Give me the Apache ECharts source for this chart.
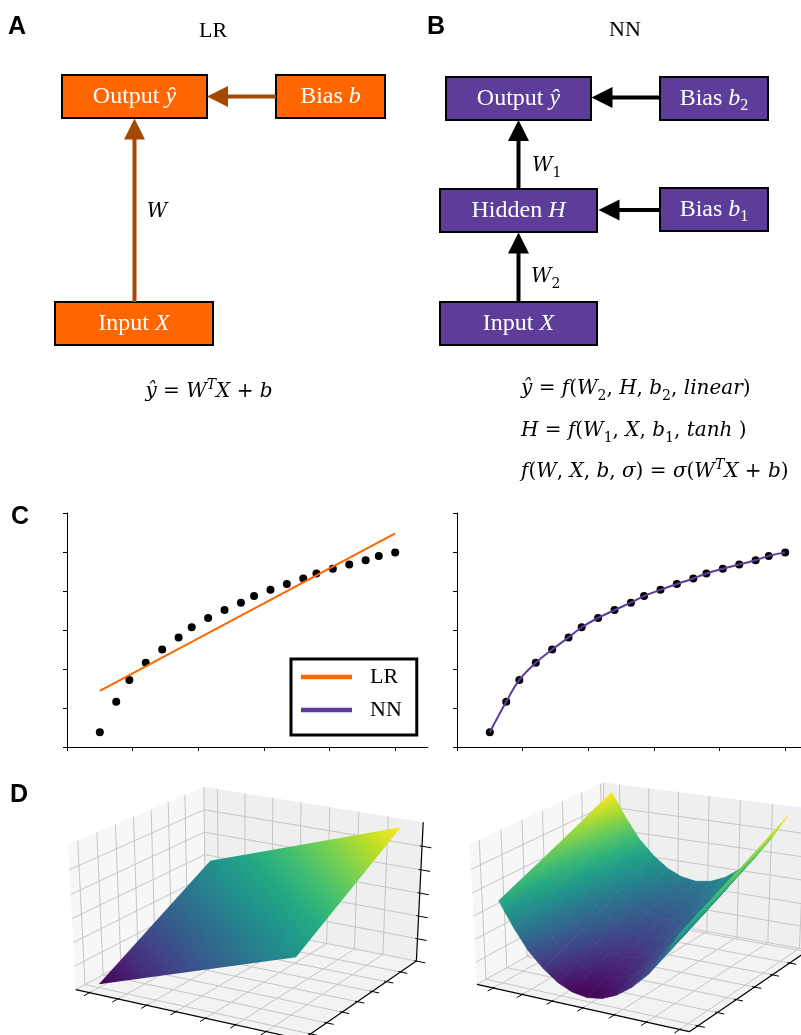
<!DOCTYPE html>
<html>
<head>
<meta charset="utf-8">
<script src="https://cdn.jsdelivr.net/npm/echarts@6/dist/echarts.min.js"></script>
<style>
  html, body { margin: 0; padding: 0; background: #fff; }
  #main { width: 801px; height: 1035px; }
</style>
</head>
<body>
<div id="main"></div>
<script>
// ---------- data ----------
// panel C: observations, LR fit, NN fit
var obsX = [1.0, 1.5, 1.9, 2.4, 2.9, 3.4, 3.8, 4.3, 4.8, 5.3, 5.7, 6.2, 6.7, 7.2, 7.6, 8.1, 8.6, 9.1, 9.5, 10.0];
var obsY = [0.38, 1.16, 1.72, 2.16, 2.50, 2.81, 3.07, 3.31, 3.51, 3.70, 3.87, 4.03, 4.18, 4.32, 4.45, 4.57, 4.68, 4.79, 4.90, 4.99];
var lrFitX = [1.0, 10.0];
var lrFitY = [1.44, 5.48];
var nnFitY = [0.38, 1.16, 1.72, 2.16, 2.50, 2.81, 3.07, 3.31, 3.51, 3.70, 3.87, 4.03, 4.18, 4.32, 4.45, 4.57, 4.68, 4.79, 4.90, 4.99];
var cTicksX = [0, 2, 4, 6, 8, 10];

// panel D left: LR plane (corner values, rows = y)
var lrGridX = [-1, 1];
var lrGridY = [-1, 1];
var lrGridZ = [[-2, 0], [0, 2]];
var lrTicksX = [-1, -0.7, -0.4, -0.1, 0.2, 0.5, 0.8];
var lrTicksY = [-1, -0.7, -0.4, -0.1, 0.2, 0.5, 0.8];
var lrTicksZ = [-2.1, -1.4, -0.7, 0, 0.7, 1.4];

// panel D right: NN surface (rows = y)
var nnGridX = [-1, -0.83, -0.67, -0.5, -0.33, -0.17, 0, 0.17, 0.33, 0.5, 0.67, 0.83, 1];
var nnGridY = [-1, -0.67, -0.33, 0, 0.33, 0.67, 1];
var nnGridZ = [
  [1.00, 0.69, 0.44, 0.25, 0.11, 0.03, 0.00, 0.03, 0.11, 0.25, 0.44, 0.69, 1.00],
  [1.11, 0.80, 0.55, 0.36, 0.22, 0.14, 0.11, 0.14, 0.22, 0.36, 0.55, 0.80, 1.11],
  [1.22, 0.91, 0.66, 0.47, 0.33, 0.25, 0.22, 0.25, 0.33, 0.47, 0.66, 0.91, 1.22],
  [1.33, 1.02, 0.77, 0.58, 0.44, 0.36, 0.33, 0.36, 0.44, 0.58, 0.77, 1.02, 1.33],
  [1.44, 1.13, 0.88, 0.69, 0.55, 0.47, 0.44, 0.47, 0.55, 0.69, 0.88, 1.13, 1.44],
  [1.56, 1.25, 1.00, 0.81, 0.67, 0.59, 0.56, 0.59, 0.67, 0.81, 1.00, 1.25, 1.56],
  [1.67, 1.36, 1.11, 0.92, 0.78, 0.70, 0.67, 0.70, 0.78, 0.92, 1.11, 1.36, 1.67]
];
var nnTicksX = [-1, -0.65, -0.3, 0.05, 0.4, 0.75, 1.1];
var nnTicksY = [-1, -0.65, -0.3, 0.05, 0.4, 0.75, 1.1];
var nnTicksZ = [-0.05, 0.24, 0.53, 0.83, 1.12, 1.41];

// ---------- layout / style ----------
var lrRange = { x: [-1.15, 1.15], y: [-1.15, 1.15], z: [-2.1, 2.1] };
var nnRange = { x: [-1.2, 1.2], y: [-1.15, 1.15], z: [-0.05, 1.72] };
// box corner (fractions) -> pixel, used to fit the 3D view
var lrView = [
  [0, 0, 1, 68, 846], [0, 0, 0, 75, 988], [0, 1, 1, 204, 786], [1, 1, 1, 423, 822],
  [1, 1, 0, 416, 961], [1, 0, 0, 303, 1040], [0, 1, 0, 206, 921]
];
var nnView = [
  [0, 0, 1, 470, 845], [0, 0, 0, 476, 983], [0, 1, 1, 603, 782], [1, 1, 1, 815, 809],
  [1, 1, 0, 808, 950], [1, 0, 0, 690, 1032], [0, 1, 0, 606, 914]
];
var viridis = ['#440154', '#482475', '#414487', '#355f8d', '#2a788e', '#21918c',
               '#22a884', '#44bf70', '#7ad151', '#bddf26', '#fde725'];
var ORANGE = '#ff6600', BROWN = '#a64800', PURPLE = '#5e3c99';
var SERIF = 'Liberation Serif', MATH = 'DejaVu Serif';

var chart = echarts.init(document.getElementById('main'));

// least squares fit of a projective 3D -> 2D map from the anchor corners
function makeCamera(anchors) {
  var ox = 400, oy = 900, s = 100, rows = [], rhs = [];
  anchors.forEach(function (a) {
    var X = a[0], Y = a[1], Z = a[2], u = (a[3] - ox) / s, v = (a[4] - oy) / s;
    rows.push([X, Y, Z, 1, 0, 0, 0, 0, -u * X, -u * Y, -u * Z]); rhs.push(u);
    rows.push([0, 0, 0, 0, X, Y, Z, 1, -v * X, -v * Y, -v * Z]); rhs.push(v);
  });
  var n = 11, M = [], i, j, k;
  for (i = 0; i < n; i++) {
    M[i] = [];
    for (j = 0; j <= n; j++) {
      var acc = 0;
      for (k = 0; k < rows.length; k++) acc += rows[k][i] * (j < n ? rows[k][j] : rhs[k]);
      M[i][j] = acc;
    }
  }
  for (i = 0; i < n; i++) {
    var piv = i;
    for (k = i + 1; k < n; k++) if (Math.abs(M[k][i]) > Math.abs(M[piv][i])) piv = k;
    var t = M[i]; M[i] = M[piv]; M[piv] = t;
    for (k = 0; k < n; k++) {
      if (k === i) continue;
      var f = M[k][i] / M[i][i];
      for (j = i; j <= n; j++) M[k][j] -= f * M[i][j];
    }
  }
  var p = [];
  for (i = 0; i < n; i++) p[i] = M[i][n] / M[i][i];
  return function (X, Y, Z) {
    var w = p[8] * X + p[9] * Y + p[10] * Z + 1;
    return [ox + s * (p[0] * X + p[1] * Y + p[2] * Z + p[3]) / w,
            oy + s * (p[4] * X + p[5] * Y + p[6] * Z + p[7]) / w];
  };
}
var lrCam = makeCamera(lrView);
var nnCam = makeCamera(nnView);

function frac(r) { return function (v) { return (v - r[0]) / (r[1] - r[0]); }; }

// viridis lookup, t in [0, 1]
function hexRgb(h) { return [parseInt(h.substr(1, 2), 16), parseInt(h.substr(3, 2), 16), parseInt(h.substr(5, 2), 16)]; }
var virRgb = viridis.map(hexRgb);
function vir(t) {
  t = Math.max(0, Math.min(1, t)) * (virRgb.length - 1);
  var i = Math.min(Math.floor(t), virRgb.length - 2), f = t - i, a = virRgb[i], b = virRgb[i + 1];
  return 'rgb(' + Math.round(a[0] + (b[0] - a[0]) * f) + ',' + Math.round(a[1] + (b[1] - a[1]) * f) + ',' +
         Math.round(a[2] + (b[2] - a[2]) * f) + ')';
}

// panes, grid, axis lines and ticks of a matplotlib style 3D box
function frameRender(cam, range, tx, ty, tz) {
  return function () {
    var kids = [];
    function P(q) { return cam(q[0], q[1], q[2]); }
    function poly(pts, fill) {
      kids.push({ type: 'polygon', shape: { points: pts.map(P) }, style: { fill: fill } });
    }
    function seg(a, b, color, w) {
      var p = P(a), q = P(b);
      kids.push({ type: 'line', shape: { x1: p[0], y1: p[1], x2: q[0], y2: q[1] },
                  style: { stroke: color, lineWidth: w } });
    }
    var fx = tx.map(frac(range.x)), fy = ty.map(frac(range.y)), fz = tz.map(frac(range.z));
    poly([[0, 0, 0], [0, 1, 0], [0, 1, 1], [0, 0, 1]], '#f7f7f7');
    poly([[0, 1, 0], [1, 1, 0], [1, 1, 1], [0, 1, 1]], '#efefef');
    poly([[0, 0, 0], [1, 0, 0], [1, 1, 0], [0, 1, 0]], '#f3f3f3');
    var G = '#c6c6c6';
    seg([0, 1, 0], [0, 1, 1], G, 1);
    fx.forEach(function (t) { seg([t, 0, 0], [t, 1, 0], G, 1); seg([t, 1, 0], [t, 1, 1], G, 1); });
    fy.forEach(function (t) { seg([0, t, 0], [1, t, 0], G, 1); seg([0, t, 0], [0, t, 1], G, 1); });
    fz.forEach(function (t) { seg([0, 0, t], [0, 1, t], G, 1); seg([0, 1, t], [1, 1, t], G, 1); });
    seg([0, 0, 0], [1, 0, 0], '#000', 1.2);
    seg([1, 0, 0], [1, 1, 0], '#000', 1.2);
    seg([1, 1, 0], [1, 1, 1], '#000', 1.2);
    fx.forEach(function (t) { seg([t, 0.01, 0], [t, -0.04, 0], '#000', 1); });
    fy.forEach(function (t) { seg([0.99, t, 0], [1.03, t, 0], '#000', 1); });
    fz.forEach(function (t) { seg([0.99, 1, t], [1.04, 1, t], '#000', 1); });
    return { type: 'group', children: kids };
  };
}

// LR plane: one polygon, viridis gradient along z
function lrSurface() {
  var fx = frac(lrRange.x), fy = frac(lrRange.y), fz = frac(lrRange.z);
  function C(i, j) { return lrCam(fx(lrGridX[i]), fy(lrGridY[j]), fz(lrGridZ[j][i])); }
  var p00 = C(0, 0), p10 = C(1, 0), p11 = C(1, 1), p01 = C(0, 1);
  var d = [p01[0] - p10[0], p01[1] - p10[1]];
  var len = Math.sqrt(d[0] * d[0] + d[1] * d[1]);
  var nrm = [-d[1] / len, d[0] / len];
  var proj = (p11[0] - p00[0]) * nrm[0] + (p11[1] - p00[1]) * nrm[1];
  var stops = viridis.map(function (c, k) { return { offset: k / (viridis.length - 1), color: c }; });
  var grad = new echarts.graphic.LinearGradient(p00[0], p00[1],
    p00[0] + nrm[0] * proj, p00[1] + nrm[1] * proj, stops, true);
  return { type: 'polygon', shape: { points: [p00, p10, p11, p01] },
           style: { fill: grad, stroke: null } };
}

// NN surface cells, sorted far to near
var nnCells = [];
(function () {
  var fx = frac(nnRange.x), fy = frac(nnRange.y), fz = frac(nnRange.z);
  for (var j = 0; j < nnGridY.length - 1; j++) {
    for (var i = 0; i < nnGridX.length - 1; i++) {
      var zAvg = (nnGridZ[j][i] + nnGridZ[j][i + 1] + nnGridZ[j + 1][i] + nnGridZ[j + 1][i + 1]) / 4;
      var cx = fx((nnGridX[i] + nnGridX[i + 1]) / 2), cy = fy((nnGridY[j] + nnGridY[j + 1]) / 2);
      var depth = -0.433 * cx + 0.75 * cy - 0.375 * fz(zAvg);
      nnCells.push([i, j, zAvg, depth]);
    }
  }
  nnCells.sort(function (a, b) { return b[3] - a[3]; });
})();
var nnZmin = Math.min.apply(null, nnGridZ.map(function (r) { return Math.min.apply(null, r); }));
var nnZmax = Math.max.apply(null, nnGridZ.map(function (r) { return Math.max.apply(null, r); }));

// each cell gets a linear gradient following its screen-space z slope
function nnSurface(params, api) {
  var i = api.value(0), j = api.value(1);
  var fx = frac(nnRange.x), fy = frac(nnRange.y), fz = frac(nnRange.z);
  var ids = [[i, j], [i + 1, j], [i + 1, j + 1], [i, j + 1]];
  var z = ids.map(function (c) { return nnGridZ[c[1]][c[0]]; });
  var p = ids.map(function (c, k) { return nnCam(fx(nnGridX[c[0]]), fy(nnGridY[c[1]]), fz(z[k])); });
  var eu = [(p[1][0] - p[0][0] + p[2][0] - p[3][0]) / 2, (p[1][1] - p[0][1] + p[2][1] - p[3][1]) / 2];
  var ev = [(p[3][0] - p[0][0] + p[2][0] - p[1][0]) / 2, (p[3][1] - p[0][1] + p[2][1] - p[1][1]) / 2];
  var du = (z[1] - z[0] + z[2] - z[3]) / 2, dv = (z[3] - z[0] + z[2] - z[1]) / 2;
  var det = eu[0] * ev[1] - eu[1] * ev[0];
  var zc = (z[0] + z[1] + z[2] + z[3]) / 4;
  var norm = function (v) { return (v - nnZmin) / (nnZmax - nnZmin); };
  var fill = vir(norm(zc));
  if (Math.abs(det) > 0.5) {
    var g = [(ev[1] * du - eu[1] * dv) / det, (-ev[0] * du + eu[0] * dv) / det];
    var g2 = g[0] * g[0] + g[1] * g[1];
    if (g2 > 1e-9) {
      var c = [(p[0][0] + p[1][0] + p[2][0] + p[3][0]) / 4, (p[0][1] + p[1][1] + p[2][1] + p[3][1]) / 4];
      var lo = Math.min.apply(null, z), hi = Math.max.apply(null, z);
      var a = (lo - zc) / g2, b = (hi - zc) / g2;
      fill = new echarts.graphic.LinearGradient(c[0] + g[0] * a, c[1] + g[1] * a, c[0] + g[0] * b, c[1] + g[1] * b,
        [{ offset: 0, color: vir(norm(lo)) }, { offset: 0.5, color: vir(norm((lo + hi) / 2)) },
         { offset: 1, color: vir(norm(hi)) }], true);
    }
  }
  return { type: 'polygon', shape: { points: p }, style: { fill: fill, stroke: fill, lineWidth: 0.7 } };
}

// ---------- diagram text ----------
var boxRich = {
  n: { fontFamily: SERIF, fontSize: 24, lineHeight: 30, fill: '#fff' },
  i: { fontFamily: SERIF, fontSize: 24, lineHeight: 30, fontStyle: 'italic', fill: '#fff' },
  s: { fontFamily: SERIF, fontSize: 16, lineHeight: 20, verticalAlign: 'bottom', fill: '#fff' }
};
var mathRich = {
  n: { fontFamily: MATH, fontSize: 20, lineHeight: 28, fill: '#000' },
  i: { fontFamily: MATH, fontSize: 20, lineHeight: 28, fontStyle: 'italic', fill: '#000' },
  s: { fontFamily: MATH, fontSize: 14, lineHeight: 18, verticalAlign: 'bottom', fill: '#000' },
  p: { fontFamily: MATH, fontSize: 14, lineHeight: 14, verticalAlign: 'top', fontStyle: 'italic', fill: '#000' }
};

function box(x, y, w, h, fill, label) {
  return [
    { type: 'rect', shape: { x: x, y: y, width: w, height: h },
      style: { fill: fill, stroke: '#000', lineWidth: 2 } },
    { type: 'text', x: x + w / 2, y: y + h / 2,
      style: { text: label, rich: boxRich, fill: '#fff', align: 'center', verticalAlign: 'middle' } }
  ];
}
function hArrow(x0, x1, y, color) {
  return [
    { type: 'line', shape: { x1: x0, y1: y, x2: x1 + 20, y2: y }, style: { stroke: color, lineWidth: 4 } },
    { type: 'polygon', shape: { points: [[x1, y], [x1 + 21, y - 10.5], [x1 + 21, y + 10.5]] }, style: { fill: color } }
  ];
}
function vArrow(x, y0, y1, color) {
  return [
    { type: 'line', shape: { x1: x, y1: y0, x2: x, y2: y1 + 20 }, style: { stroke: color, lineWidth: 4 } },
    { type: 'polygon', shape: { points: [[x, y1], [x - 10.5, y1 + 21], [x + 10.5, y1 + 21]] }, style: { fill: color } }
  ];
}
function txt(x, y, s, rich, align) {
  return { type: 'text', x: x, y: y, style: { text: s, rich: rich, fill: '#000', align: align || 'center', verticalAlign: 'middle' } };
}
function panelLabel(x, y, s) {
  return { type: 'text', x: x, y: y, style: { text: s, fontFamily: 'Liberation Sans', fontWeight: 'bold',
           fontSize: 25, fill: '#000', align: 'left', verticalAlign: 'middle' } };
}
function title(x, y, s) {
  return { type: 'text', x: x, y: y, style: { text: s, fontFamily: SERIF, fontSize: 22, fill: '#000',
           align: 'center', verticalAlign: 'middle' } };
}

var graphics = [].concat(
  panelLabel(8, 27, 'A'), panelLabel(427, 27, 'B'), panelLabel(11, 517, 'C'), panelLabel(10, 795, 'D'),
  title(213, 31, 'LR'), title(625, 30, 'NN'),
  box(62, 75, 145, 43, ORANGE, '{n|Output }{i|ŷ}'),
  box(276, 75, 109, 43, ORANGE, '{n|Bias }{i|b}'),
  box(55, 302, 158, 43, ORANGE, '{n|Input }{i|X}'),
  hArrow(276, 207, 96.5, BROWN),
  vArrow(134.5, 302, 118.5, BROWN),
  txt(157, 212, '{i|W}', mathRich),
  box(446, 77, 145, 43, PURPLE, '{n|Output }{i|ŷ}'),
  box(660, 77, 108, 43, PURPLE, '{n|Bias }{i|b}{s|2}'),
  box(440, 189, 157, 43, PURPLE, '{n|Hidden }{i|H}'),
  box(660, 188, 108, 43, PURPLE, '{n|Bias }{i|b}{s|1}'),
  box(440, 302, 157, 43, PURPLE, '{n|Input }{i|X}'),
  hArrow(660, 591.5, 97.5, '#000'),
  hArrow(660, 598.5, 210, '#000'),
  vArrow(518.5, 189, 120, '#000'),
  vArrow(518.5, 302, 232.5, '#000'),
  txt(532, 166, '{i|W}{s|1}', mathRich, 'left'),
  txt(531, 277, '{i|W}{s|2}', mathRich, 'left'),
  txt(209, 392, '{i|ŷ}{n| = }{i|W}{p|T}{i|X}{n| + }{i|b}', mathRich),
  txt(521, 389, '{i|ŷ}{n| = }{i|f}{n|(}{i|W}{s|2}{n|, }{i|H}{n|, }{i|b}{s|2}{n|, }{i|linear}{n|)}', mathRich, 'left'),
  txt(521, 431, '{i|H}{n| = }{i|f}{n|(}{i|W}{s|1}{n|, }{i|X}{n|, }{i|b}{s|1}{n|, }{i|tanh}{n| )}', mathRich, 'left'),
  txt(521, 472, '{i|f}{n|(}{i|W}{n|, }{i|X}{n|, }{i|b}{n|, }{i|σ}{n|) = }{i|σ}{n|(}{i|W}{p|T}{i|X}{n| + }{i|b}{n|)}', mathRich, 'left')
);

// ---------- panel C axes ----------
function cx(idx) {
  return { gridIndex: idx, type: 'value', min: 0, max: 11, interval: 2,
    axisLine: { show: true, onZero: false, lineStyle: { color: '#000', width: 1 } },
    axisTick: { show: true, length: 4, customValues: cTicksX, lineStyle: { color: '#000' } },
    axisLabel: { show: false }, splitLine: { show: false } };
}
function cy(idx) {
  return { gridIndex: idx, type: 'value', min: 0, max: 6, interval: 1,
    axisLine: { show: true, onZero: false, lineStyle: { color: '#000', width: 1 } },
    axisTick: { show: true, length: 4, lineStyle: { color: '#000' } },
    axisLabel: { show: false }, splitLine: { show: false } };
}
function pairs(xs, ys) { return xs.map(function (x, k) { return [x, ys[k]]; }); }

var option = {
  animation: false,
  backgroundColor: '#fff',
  graphic: graphics,
  grid: [
    { left: 67, top: 513, width: 361, height: 234, outerBoundsMode: 'none' },
    { left: 457, top: 513, width: 361, height: 234, outerBoundsMode: 'none' }
  ],
  xAxis: [cx(0), cx(1)],
  yAxis: [cy(0), cy(1)],
  legend: {
    data: ['LR', 'NN'], orient: 'vertical', left: 291, top: 659,
    padding: [7, 15, 14, 10], itemGap: 11, itemWidth: 51, itemHeight: 4.5, icon: 'rect',
    borderColor: '#000', borderWidth: 3, borderRadius: 0, backgroundColor: '#fff', selectedMode: false,
    textStyle: { fontFamily: SERIF, fontSize: 22, color: '#000', lineHeight: 22, padding: [0, 0, 0, 13] }
  },
  series: [
    { type: 'scatter', xAxisIndex: 0, yAxisIndex: 0, data: pairs(obsX, obsY), symbolSize: 8,
      itemStyle: { color: '#000', opacity: 1 }, z: 2 },
    { name: 'LR', type: 'line', xAxisIndex: 0, yAxisIndex: 0, data: pairs(lrFitX, lrFitY), showSymbol: false,
      lineStyle: { color: ORANGE, width: 2 }, itemStyle: { color: ORANGE }, z: 3 },
    { type: 'scatter', xAxisIndex: 1, yAxisIndex: 1, data: pairs(obsX, obsY), symbolSize: 8,
      itemStyle: { color: '#000', opacity: 1 }, z: 2 },
    { name: 'NN', type: 'line', xAxisIndex: 1, yAxisIndex: 1, data: pairs(obsX, nnFitY), showSymbol: false,
      smooth: 0.4, lineStyle: { color: PURPLE, width: 2 }, itemStyle: { color: PURPLE }, z: 3 },
    { type: 'custom', coordinateSystem: 'none', silent: true, z: 1, data: [[0]],
      renderItem: frameRender(lrCam, lrRange, lrTicksX, lrTicksY, lrTicksZ) },
    { type: 'custom', coordinateSystem: 'none', silent: true, z: 2, data: [[0]],
      renderItem: lrSurface },
    { type: 'custom', coordinateSystem: 'none', silent: true, z: 1, data: [[0]],
      renderItem: frameRender(nnCam, nnRange, nnTicksX, nnTicksY, nnTicksZ) },
    { type: 'custom', coordinateSystem: 'none', silent: true, z: 2, data: nnCells,
      renderItem: nnSurface }
  ]
};
chart.setOption(option);
window.onresize = chart.resize;
</script>
</body>
</html>
